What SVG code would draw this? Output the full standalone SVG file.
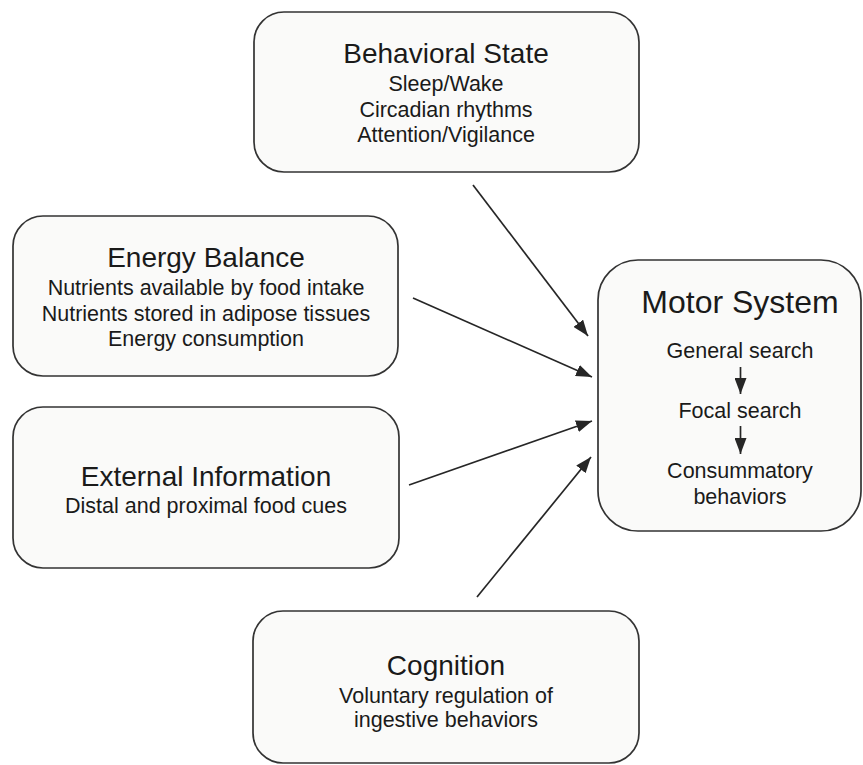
<svg xmlns="http://www.w3.org/2000/svg" width="863" height="765" viewBox="0 0 863 765">
<style>
.box{fill:#fafaf9;stroke:#333333;stroke-width:1.7}
text{font-family:"Liberation Sans",Arial,sans-serif;fill:#1a1a1a;text-anchor:middle}
.t{font-size:28px}
.tm{font-size:32px}
.s{font-size:21.5px}
.ln{stroke:#262626;stroke-width:1.7;fill:none}
</style>
<defs>
<marker id="ah" markerUnits="userSpaceOnUse" markerWidth="16" markerHeight="12" refX="16" refY="6" orient="auto">
<path d="M0,0 L16,6 L0,12 Z" fill="#262626"/>
</marker>
</defs>
<rect width="863" height="765" fill="#ffffff"/>
<g id="behavioral-state">
<rect class="box" x="254" y="12" width="385" height="160" rx="30"/>
<text class="t" x="446" y="63">Behavioral State</text>
<text class="s" x="446" y="91">Sleep/Wake</text>
<text class="s" x="446" y="117">Circadian rhythms</text>
<text class="s" x="446" y="142">Attention/Vigilance</text>
</g>
<g id="energy-balance">
<rect class="box" x="13" y="216" width="385" height="160" rx="30"/>
<text class="t" x="206" y="267">Energy Balance</text>
<text class="s" x="206" y="295">Nutrients available by food intake</text>
<text class="s" x="206" y="321">Nutrients stored in adipose tissues</text>
<text class="s" x="206" y="346">Energy consumption</text>
</g>
<g id="external-information">
<rect class="box" x="13" y="407" width="386" height="161" rx="30"/>
<text class="t" x="206" y="486">External Information</text>
<text class="s" x="206" y="513">Distal and proximal food cues</text>
</g>
<g id="motor-system">
<rect class="box" x="598" y="260" width="263" height="271" rx="40"/>
<text class="tm" x="740" y="313">Motor System</text>
<text class="s" x="740" y="358">General search</text>
<text class="s" x="740" y="418">Focal search</text>
<text class="s" x="740" y="478">Consummatory</text>
<text class="s" x="740" y="504">behaviors</text>
<line class="ln" x1="740.5" y1="367" x2="740.5" y2="394" marker-end="url(#ah)"/>
<line class="ln" x1="740.5" y1="426" x2="740.5" y2="454" marker-end="url(#ah)"/>
</g>
<g id="cognition">
<rect class="box" x="253" y="611" width="386" height="152" rx="30"/>
<text class="t" x="446" y="675">Cognition</text>
<text class="s" x="446" y="703">Voluntary regulation of</text>
<text class="s" x="446" y="727">ingestive behaviors</text>
</g>
<g id="connectors">
<line class="ln" x1="473" y1="185" x2="588" y2="336" marker-end="url(#ah)"/>
<line class="ln" x1="413" y1="298" x2="592" y2="377" marker-end="url(#ah)"/>
<line class="ln" x1="409" y1="485" x2="592" y2="421" marker-end="url(#ah)"/>
<line class="ln" x1="477" y1="597" x2="591" y2="457" marker-end="url(#ah)"/>
</g>
</svg>
